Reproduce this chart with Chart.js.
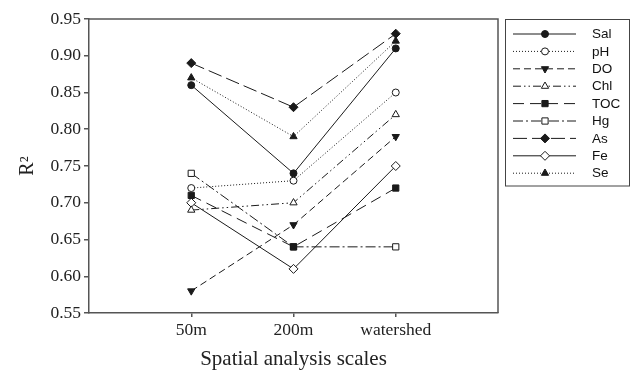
<!DOCTYPE html>
<html>
<head>
<meta charset="utf-8">
<script src="https://cdn.jsdelivr.net/npm/chart.js@4/dist/chart.umd.min.js"></script>
<style>
  html, body { margin: 0; padding: 0; background: #fff; }
  #wrap { width: 634px; height: 372px; position: relative; }
</style>
</head>
<body>
<div id="wrap"><canvas id="c" width="634" height="372"></canvas></div>
<script>
// ---- data ----
const categories = ['50m', '200m', 'watershed'];
const seriesNames = ['Sal', 'pH', 'DO', 'Chl', 'TOC', 'Hg', 'As', 'Fe', 'Se'];
const Sal = [0.86, 0.74, 0.91];
const pH  = [0.72, 0.73, 0.85];
const DO  = [0.58, 0.67, 0.79];
const Chl = [0.69, 0.70, 0.82];
const TOC = [0.71, 0.64, 0.72];
const Hg  = [0.74, 0.64, 0.64];
const As  = [0.89, 0.83, 0.93];
const Fe  = [0.70, 0.61, 0.75];
const Se  = [0.87, 0.79, 0.92];
const yTicks = [0.55, 0.60, 0.65, 0.70, 0.75, 0.80, 0.85, 0.90, 0.95];
const xTitle = 'Spatial analysis scales';
const yTitle = 'R\u00B2';

const seriesValues = [Sal, pH, DO, Chl, TOC, Hg, As, Fe, Se];

// ---- styles ----
const INK = '#1a1a1a';
const styles = [
  { dash: [],                 point: 'circle',   fill: INK,    r: 3.5, rot: 0 },
  { dash: [1, 2],             point: 'circle',   fill: '#fff', r: 3.5, rot: 0 },
  { dash: [7, 4],             point: 'triangle', fill: INK,    r: 4.2, rot: 180 },
  { dash: [8, 3, 1.5, 3, 1.5, 3], point: 'triangle', fill: '#fff', r: 4.2, rot: 0 },
  { dash: [11, 6],            point: 'rect',     fill: INK,    r: 4.4, rot: 0 },
  { dash: [10, 3, 2, 3],      point: 'rect',     fill: '#fff', r: 4.4, rot: 0 },
  { dash: [14, 5],            point: 'rectRot',  fill: INK,    r: 4.5, rot: 0 },
  { dash: [],                 point: 'rectRot',  fill: '#fff', r: 4.5, rot: 0 },
  { dash: [1, 2],             point: 'triangle', fill: INK,    r: 4.2, rot: 0 }
];

const datasets = seriesNames.map((name, i) => ({
  label: name,
  data: seriesValues[i].map((v, j) => ({ x: j + 1, y: v })),
  borderColor: INK,
  borderWidth: 1,
  borderDash: styles[i].dash,
  pointStyle: styles[i].point,
  pointRadius: styles[i].r,
  pointRotation: styles[i].rot,
  pointBackgroundColor: styles[i].fill,
  pointBorderColor: INK,
  pointBorderWidth: 1,
  tension: 0,
  fill: false
}));

const AXIS = '#555';
const SERIF = '"Liberation Serif", "Times New Roman", serif';

const framePlugin = {
  id: 'frame',
  afterDraw(chart) {
    const ctx = chart.ctx;
    const a = chart.chartArea;
    ctx.save();
    ctx.strokeStyle = AXIS;
    ctx.lineWidth = 1.5;
    ctx.setLineDash([]);
    ctx.beginPath();
    ctx.moveTo(a.left, a.top);
    ctx.lineTo(a.right, a.top);
    ctx.lineTo(a.right, a.bottom);
    ctx.stroke();

    // legend box
    const bx = 505.5, by = 19.5, bw = 124, bh = 166.5;
    ctx.strokeStyle = '#444';
    ctx.lineWidth = 1;
    ctx.strokeRect(bx, by, bw, bh);
    ctx.font = '13.5px "Liberation Sans", Arial, sans-serif';
    ctx.textBaseline = 'middle';
    ctx.textAlign = 'left';
    seriesNames.forEach((name, i) => {
      const y = 34 + i * 17.4;
      const st = styles[i];
      ctx.strokeStyle = INK;
      ctx.lineWidth = 1;
      ctx.setLineDash(st.dash);
      ctx.beginPath();
      ctx.moveTo(513, y);
      ctx.lineTo(576, y);
      ctx.stroke();
      ctx.setLineDash([]);
      ctx.fillStyle = st.fill;
      ctx.strokeStyle = INK;
      ctx.lineWidth = 1;
      if (Chart.helpers && Chart.helpers.drawPoint) {
        Chart.helpers.drawPoint(ctx, { pointStyle: st.point, radius: st.r, rotation: st.rot, borderWidth: 1 }, 545, y);
      }
      ctx.fillStyle = '#111';
      ctx.fillText(name, 592, y + 0.5);
    });
    ctx.restore();
  }
};

new Chart(document.getElementById('c'), {
  type: 'line',
  data: { datasets },
  options: {
    responsive: false,
    animation: false,
    devicePixelRatio: 1,
    layout: { padding: { top: 19, right: 136, left: 0, bottom: 0 } },
    plugins: { legend: { display: false }, tooltip: { enabled: false } },
    scales: {
      x: {
        type: 'linear',
        min: 0,
        max: 4,
        afterBuildTicks: (s) => { s.ticks = categories.map((c, i) => ({ value: i + 1 })); },
        afterFit: (s) => { s.height = 59; },
        ticks: {
          callback: (v) => categories[Math.round(v) - 1] || '',
          font: { family: SERIF, size: 17.5 },
          color: '#222',
          padding: 3,
          maxRotation: 0,
          autoSkip: false
        },
        grid: { drawOnChartArea: false, drawTicks: true, tickLength: 4, color: AXIS, lineWidth: 1.5 },
        border: { display: true, color: AXIS, width: 1.5 },
        title: {
          display: true,
          text: xTitle,
          font: { family: SERIF, size: 21 },
          color: '#222',
          padding: { top: 0, bottom: 0 }
        }
      },
      y: {
        type: 'linear',
        min: 0.55,
        max: 0.95,
        afterBuildTicks: (s) => { s.ticks = yTicks.map(v => ({ value: v })); },
        afterFit: (s) => { s.width = 89; },
        ticks: {
          callback: (v) => Number(v).toFixed(2),
          font: { family: SERIF, size: 17.5 },
          color: '#222',
          padding: 3
        },
        grid: { drawOnChartArea: false, drawTicks: true, tickLength: 5, color: AXIS, lineWidth: 1.5 },
        border: { display: true, color: AXIS, width: 1.5 },
        title: {
          display: true,
          text: yTitle,
          font: { family: SERIF, size: 20 },
          color: '#222',
          padding: { top: 16, bottom: 0 }
        }
      }
    }
  },
  plugins: [framePlugin]
});
</script>
</body>
</html>
